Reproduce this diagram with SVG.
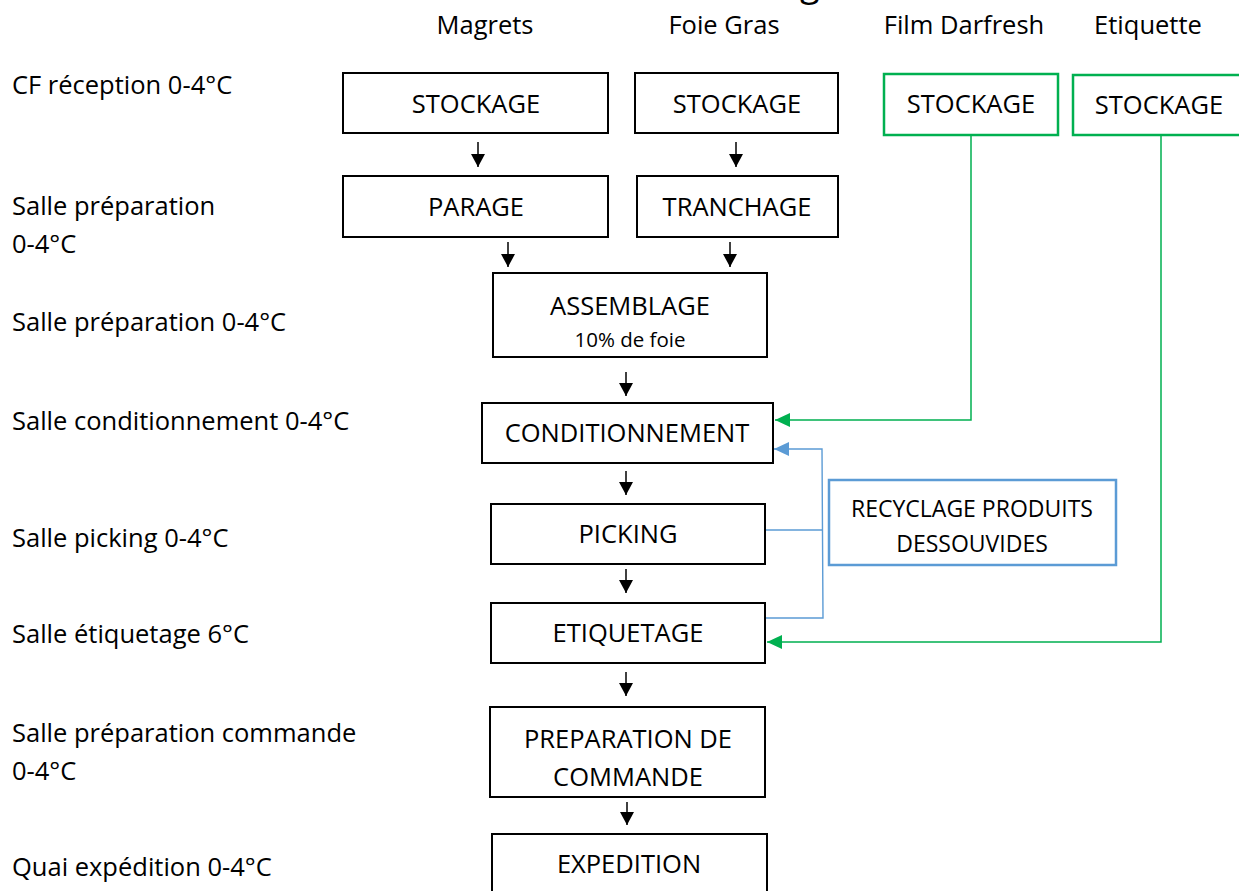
<svg xmlns="http://www.w3.org/2000/svg" width="1239" height="891" viewBox="0 0 1239 891">
  <style>
    text { font-family: "Open Sans", "Liberation Sans", sans-serif; fill: #000; }
    .lbl { font-size: 25.5px; }
    .hdr { font-size: 25.5px; text-anchor: middle; }
    .t { font-size: 25.5px; text-anchor: middle; }
    .small { font-size: 20.5px; text-anchor: middle; }
    .rec { font-size: 23px; text-anchor: middle; }
    .box { fill: #fff; stroke: #000; stroke-width: 2; }
    .gbox { fill: #fff; stroke: #00B050; stroke-width: 2.5; }
    .bbox { fill: #fff; stroke: #5B9BD5; stroke-width: 2.5; }
    .arr { stroke: #000; stroke-width: 1.5; fill: none; marker-end: url(#ah); }
    .garr { stroke: #00B050; stroke-width: 1.5; fill: none; }
    .barr { stroke: #5B9BD5; stroke-width: 1.4; fill: none; }
  </style>
  <defs>
    <marker id="ah" markerUnits="userSpaceOnUse" markerWidth="13" markerHeight="14" refX="13" refY="7" orient="auto">
      <path d="M0,0 L13,7 L0,14 z" fill="#000"/>
    </marker>
    <marker id="ahg" markerUnits="userSpaceOnUse" markerWidth="15" markerHeight="14" refX="15" refY="7" orient="auto">
      <path d="M0,0 L15,7 L0,14 z" fill="#00B050"/>
    </marker>
    <marker id="ahb" markerUnits="userSpaceOnUse" markerWidth="15" markerHeight="14" refX="15" refY="7" orient="auto">
      <path d="M0,0 L15,7 L0,14 z" fill="#5B9BD5"/>
    </marker>
  </defs>

  <rect width="1239" height="891" fill="#fff"/>

  <!-- title, clipped by the top edge -->
  <text x="800" y="-4" style="font-size:36px">g</text>

  <!-- column headers -->
  <g id="headers">
    <text class="hdr" x="485" y="34">Magrets</text>
    <text class="hdr" x="724" y="34">Foie Gras</text>
    <text class="hdr" x="964" y="34">Film Darfresh</text>
    <text class="hdr" x="1148" y="34">Etiquette</text>
  </g>

  <!-- room / temperature labels -->
  <g id="rooms">
    <text class="lbl" x="12" y="94">CF réception 0-4°C</text>
    <text class="lbl" x="12" y="215">Salle préparation</text>
    <text class="lbl" x="12" y="253">0-4°C</text>
    <text class="lbl" x="12" y="331">Salle préparation 0-4°C</text>
    <text class="lbl" x="12" y="430">Salle conditionnement 0-4°C</text>
    <text class="lbl" x="12" y="547">Salle picking 0-4°C</text>
    <text class="lbl" x="12" y="643">Salle étiquetage 6°C</text>
    <text class="lbl" x="12" y="742">Salle préparation commande</text>
    <text class="lbl" x="12" y="780">0-4°C</text>
    <text class="lbl" x="12" y="876">Quai expédition 0-4°C</text>
  </g>

  <!-- connectors -->
  <g id="connectors">
    <line class="arr" x1="478" y1="142" x2="478" y2="167"/>
    <line class="arr" x1="736" y1="142" x2="736" y2="167"/>
    <line class="arr" x1="508" y1="242" x2="508" y2="267"/>
    <line class="arr" x1="730" y1="242" x2="730" y2="267"/>
    <line class="arr" x1="626" y1="372" x2="626" y2="396"/>
    <line class="arr" x1="626" y1="471" x2="626" y2="495"/>
    <line class="arr" x1="626" y1="569" x2="626" y2="593"/>
    <line class="arr" x1="626" y1="672" x2="626" y2="696"/>
    <line class="arr" x1="627" y1="802" x2="627" y2="825"/>
    <!-- packaging film and labels -->
    <polyline class="garr" points="971,135 971,420 775,420" marker-end="url(#ahg)"/>
    <polyline class="garr" points="1161,135 1161,642 767,642" marker-end="url(#ahg)"/>
    <!-- recycling loop -->
    <polyline class="barr" points="766,530 822,530"/>
    <polyline class="barr" points="766,618 823,618 822,449 774,449" marker-end="url(#ahb)"/>
  </g>

  <g id="stockage-magrets">
    <rect class="box" x="343" y="73" width="265" height="60"/>
    <text class="t" x="476" y="113">STOCKAGE</text>
  </g>
  <g id="stockage-foie">
    <rect class="box" x="635" y="73" width="203" height="60"/>
    <text class="t" x="737" y="113">STOCKAGE</text>
  </g>
  <g id="stockage-film">
    <rect class="gbox" x="884" y="74" width="174" height="61"/>
    <text class="t" x="971" y="113">STOCKAGE</text>
  </g>
  <g id="stockage-etiquette">
    <rect class="gbox" x="1073" y="75" width="174" height="60"/>
    <text class="t" x="1159" y="114">STOCKAGE</text>
  </g>
  <g id="parage">
    <rect class="box" x="343" y="176" width="265" height="61"/>
    <text class="t" x="476" y="216">PARAGE</text>
  </g>
  <g id="tranchage">
    <rect class="box" x="637" y="176" width="201" height="61"/>
    <text class="t" x="737" y="216">TRANCHAGE</text>
  </g>
  <g id="assemblage">
    <rect class="box" x="493" y="273" width="274" height="84"/>
    <text class="t" x="630" y="315">ASSEMBLAGE</text>
    <text class="small" x="630" y="347">10% de foie</text>
  </g>
  <g id="conditionnement">
    <rect class="box" x="482" y="403" width="291" height="60"/>
    <text class="t" x="627" y="442">CONDITIONNEMENT</text>
  </g>
  <g id="picking">
    <rect class="box" x="491" y="504" width="274" height="60"/>
    <text class="t" x="628" y="543">PICKING</text>
  </g>
  <g id="etiquetage">
    <rect class="box" x="491" y="603" width="274" height="60"/>
    <text class="t" x="628" y="642">ETIQUETAGE</text>
  </g>
  <g id="recyclage">
    <rect class="bbox" x="829" y="480" width="287" height="85"/>
    <text class="rec" x="972" y="517">RECYCLAGE PRODUITS</text>
    <text class="rec" x="972" y="552">DESSOUVIDES</text>
  </g>
  <g id="preparation-commande">
    <rect class="box" x="490" y="707" width="275" height="90"/>
    <text class="t" x="628" y="748">PREPARATION DE</text>
    <text class="t" x="628" y="786">COMMANDE</text>
  </g>
  <g id="expedition">
    <rect class="box" x="492" y="834" width="275" height="70"/>
    <text class="t" x="629" y="873">EXPEDITION</text>
  </g>
</svg>
